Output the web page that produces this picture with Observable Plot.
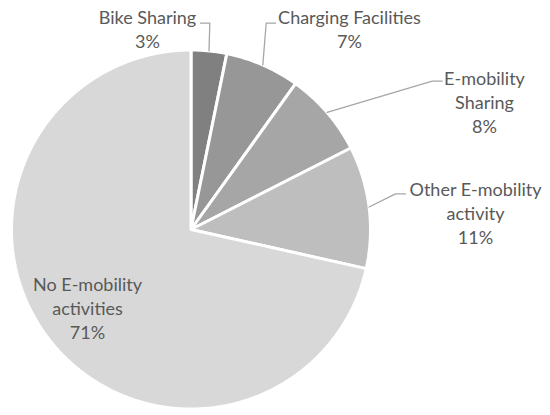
<!DOCTYPE html>
<html>
<head>
<meta charset="utf-8">
<script src="https://cdn.jsdelivr.net/npm/d3@7"></script>
<script src="https://cdn.jsdelivr.net/npm/@observablehq/plot@0.6"></script>
<style>
  html, body { margin: 0; padding: 0; background: #ffffff; }
  #chart { width: 550px; height: 415px; }
</style>
</head>
<body>
<div id="chart"></div>
<script>
// ---- data ----
const categories = ["Bike Sharing", "Charging Facilities", "E-mobility Sharing", "Other E-mobility activity", "No E-mobility activities"];
const shares = [3.2, 6.7, 7.6, 11.0, 71.5];
const percentLabels = ["3%", "7%", "8%", "11%", "71%"];
const labelLines = [["Bike Sharing"], ["Charging Facilities"], ["E-mobility", "Sharing"], ["Other E-mobility", "activity"], ["No E-mobility", "activities"]];
const sliceColors = ["#808080", "#979797", "#a6a6a6", "#bebebe", "#d8d8d8"];

// ---- layout ----
const W = 550, H = 415;
const cx = 190.5, cy = 229, R = 179.5;
const labelPos = [[147, 28], [349, 28], [484, 100.5], [475, 212], [87, 306.5]];
// leader: elbow point and end point
const leaderPts = [[[209.3, 22.7], [200, 22.7]], [[265.7, 22.7], [275, 22.7]], [[431.7, 80.7], [441.7, 80.7]], [[395, 193.3], [405, 193.3]], null];

const arcs = d3.pie().sort(null).value(d => d)(shares);
const pt = (a, r) => [cx + r * Math.sin(a), cy - r * Math.cos(a)];

const slicePts = [];
arcs.forEach((a, i) => {
  const cat = categories[i];
  slicePts.push({cat, x: cx, y: cy});
  const n = Math.max(4, Math.ceil((a.endAngle - a.startAngle) / (Math.PI / 360)));
  for (let k = 0; k <= n; k++) {
    const t = a.startAngle + (a.endAngle - a.startAngle) * k / n;
    const [x, y] = pt(t, R);
    slicePts.push({cat, x, y});
  }
});

const leaders = [];
arcs.forEach((a, i) => {
  if (!leaderPts[i]) return;
  const mid = (a.startAngle + a.endAngle) / 2;
  const [x0, y0] = pt(mid, R);
  leaders.push({cat: categories[i], x: x0, y: y0});
  leaderPts[i].forEach(([x, y]) => leaders.push({cat: categories[i], x, y}));
});

const labels = categories.map((c, i) => ({
  cat: c,
  x: labelPos[i][0],
  y: labelPos[i][1],
  text: [...labelLines[i], percentLabels[i]].join("\n")
}));

const chart = Plot.plot({
  width: W,
  height: H,
  margin: 0,
  x: {domain: [0, W], range: [0, W], axis: null},
  y: {domain: [0, H], range: [0, H], axis: null},
  color: {domain: categories, range: sliceColors},
  style: {background: "#ffffff", fontFamily: "Lato, sans-serif"},
  marks: [
    Plot.line(slicePts, {x: "x", y: "y", z: "cat", fill: "cat", stroke: "#ffffff", strokeWidth: 3, strokeLinejoin: "miter", curve: "linear-closed"}),
    Plot.line(leaders, {x: "x", y: "y", z: "cat", stroke: "#a6a6a6", strokeWidth: 1.3}),
    Plot.text(labels, {x: "x", y: "y", text: "text", fill: "#595959", fontSize: 18, lineHeight: 1.335, fontFamily: "Lato, sans-serif", textAnchor: "middle"})
  ]
});
document.getElementById("chart").appendChild(chart);
</script>
</body>
</html>
